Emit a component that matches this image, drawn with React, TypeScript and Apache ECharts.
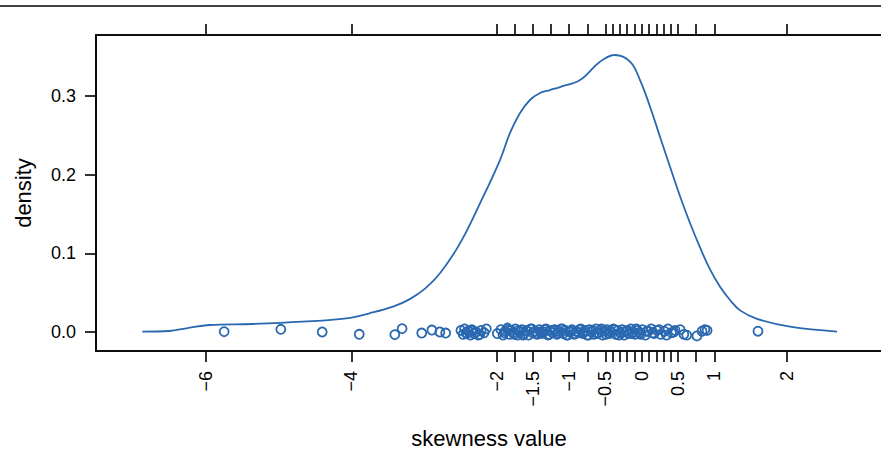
import React, { useEffect, useRef } from "react";
import * as echarts from "echarts";

// Density curve (skewness value, density)
const densityX = [-6.877, -6.505, -6.271, -5.955, -5.363, -4.674, -4.068, -3.751, -3.425, -3.2, -2.98, -2.778, -2.503, -2.227, -1.952, -1.814, -1.676, -1.539, -1.401, -1.263, -1.126, -0.85, -0.575, -0.368, -0.162, -0.024, 0.114, 0.251, 0.389, 0.527, 0.664, 0.802, 0.94, 1.078, 1.215, 1.353, 1.587, 2.042, 2.689];
const densityY = [0.0005, 0.0013, 0.0047, 0.0089, 0.0102, 0.0131, 0.0174, 0.0238, 0.0322, 0.0415, 0.0555, 0.0746, 0.1127, 0.1636, 0.2186, 0.253, 0.2784, 0.2949, 0.3038, 0.3076, 0.3114, 0.3203, 0.3436, 0.3521, 0.3436, 0.3203, 0.2864, 0.2483, 0.2101, 0.1725, 0.1385, 0.1075, 0.0795, 0.0575, 0.0407, 0.0275, 0.0168, 0.0067, 0.0005];

// Rug points (observed skewness values with vertical jitter)
const rugX = [-5.75, -4.97, -4.4, -3.89, -3.4, -3.3, -3.03, -2.89, -2.78, -2.7,
  -2.49, -2.46, -2.44, -2.42, -2.39, -2.36, -2.34, -2.31, -2.28, -2.25, -2.21, -2.17, -2.14,
  -1.99, -1.94, -1.91, -1.88, -1.85, -1.82, -1.8, -1.77, -1.74, -1.71, -1.68, -1.65, -1.62, -1.59, -1.56, -1.53, -1.5, -1.47, -1.44, -1.41, -1.38, -1.35, -1.32, -1.29, -1.26, -1.23, -1.2, -1.17, -1.14, -1.11, -1.08, -1.05, -1.02, -0.99, -0.96, -0.93, -0.9, -0.87, -0.84, -0.81, -0.78, -0.75, -0.72, -0.69, -0.66, -0.63, -0.6, -0.57, -0.54, -0.51, -0.48, -0.45, -0.42, -0.39, -0.36, -0.33, -0.3, -0.27, -0.24, -0.21, -0.18, -0.15, -0.12, -0.09, -0.06, -0.03,
  0.01, 0.05, 0.09, 0.13, 0.17, 0.21, 0.26, 0.31, 0.36, 0.41, 0.46, 0.53, 0.58, 0.62, 0.76, 0.83, 0.87, 0.9, 1.6,
  -2.41, -2.33, -2.23, -1.895, -1.835, -1.755, -1.695, -1.635, -1.575, -1.515, -1.455, -1.395, -1.335, -1.275, -1.215, -1.155, -1.095, -1.035, -0.975, -0.915, -0.855, -0.795, -0.735, -0.675, -0.615, -0.555, -0.495, -0.435, -0.375, -0.315, -0.255, -0.195, -0.135, -0.075, -0.015, 0.07, 0.15, 0.24, 0.34, 0.44];
const rugY = [0.0004, 0.0034, 0.0, -0.0029, -0.0034, 0.0042, -0.0013, 0.0025, 0.0, -0.0013,
  0.002, -0.003, 0.004, -0.001, 0.001, -0.004, 0.003, -0.002, 0.0, -0.004, 0.002, -0.001, 0.004,
  -0.002, 0.003, -0.004, 0.001, 0.005, -0.003, 0.002, -0.001, 0.004, -0.004, 0.0, 0.003, -0.002, 0.002, -0.004, 0.004, -0.001, 0.001, -0.003, 0.003, -0.002, 0.0, 0.004, -0.004, 0.002, -0.001, 0.003, -0.003, 0.001, 0.004, -0.002, 0.002, -0.004, 0.0, 0.003, -0.003, 0.001, -0.001, 0.004, -0.002, 0.002, -0.004, 0.003, 0.0, -0.003, 0.004, -0.001, 0.002, -0.004, 0.001, 0.003, -0.002, 0.0, 0.004, -0.003, 0.002, -0.001, 0.003, -0.004, 0.001, -0.002, 0.004, 0.0, -0.003, 0.002, -0.001,
  0.003, -0.004, 0.001, 0.004, -0.002, 0.002, -0.003, 0.001, 0.004, -0.001, 0.002, 0.003, -0.003, -0.004, -0.005, 0.001, 0.003, 0.002, 0.001,
  -0.002, 0.001, -0.003, -0.001, 0.003, -0.003, 0.002, -0.004, 0.001, 0.004, -0.002, 0.0, 0.003, -0.003, 0.002, -0.001, 0.004, -0.004, 0.001, -0.002, 0.003, 0.0, -0.004, 0.002, -0.002, 0.004, -0.003, 0.001, 0.003, -0.004, 0.0, 0.002, -0.002, 0.004, -0.003, 0.001, -0.001, 0.003, -0.004, 0.0];

// Axis ticks and labels
const xTicks = [-6, -4, -2, -1.75, -1.5, -1.25, -1, -0.75, -0.5, -0.4, -0.3, -0.2, -0.1, 0, 0.1, 0.2, 0.3, 0.4, 0.5, 0.75, 1, 2];
const xLabels = [-6, -4, -2, -1.5, -1, -0.5, 0, 0.5, 1, 2];
const yTicks = [0, 0.1, 0.2, 0.3];

const FONT = "'Liberation Sans', Arial, Helvetica, sans-serif";
const BLUE = "#2a68b0";

export default function App() {
  const ref = useRef<HTMLDivElement>(null);
  useEffect(() => {
    if (!ref.current) return;
    const chart = echarts.init(ref.current, undefined, { renderer: "svg" });
    const axisLine = { show: true, onZero: false, lineStyle: { color: "#000", width: 1.6 } };
    chart.setOption({
      animation: false,
      backgroundColor: "#fff",
      textStyle: { fontFamily: FONT },
      grid: {
        left: 96, top: 35, width: 786, height: 316,
        containLabel: false, outerBoundsMode: "none",
        show: true, borderColor: "#000", borderWidth: 1.6, backgroundColor: "transparent",
      },
      graphic: [
        { type: "line", shape: { x1: 0, y1: 6, x2: 881, y2: 6 }, style: { stroke: "#000", lineWidth: 1.3 } },
      ],
      xAxis: [
        {
          type: "value", position: "bottom", min: -7.5146, max: 3.308,
          axisLine,
          axisTick: { show: true, inside: false, length: 11, customValues: xTicks, lineStyle: { color: "#000", width: 1.6 } },
          axisLabel: {
            show: true, rotate: 90, margin: 20, customValues: xLabels, fontSize: 18, color: "#000", fontFamily: FONT,
            formatter: (v: number) => String(v).replace("-", "\u2212"),
          },
          splitLine: { show: false },
          name: "skewness value", nameLocation: "middle", nameGap: 76,
          nameTextStyle: { fontSize: 22, lineHeight: 22, color: "#000", fontFamily: FONT },
        },
        {
          type: "value", position: "top", min: -7.5146, max: 3.308,
          axisLine,
          axisTick: { show: true, inside: false, length: 11, customValues: xTicks, lineStyle: { color: "#000", width: 1.6 } },
          axisLabel: { show: false },
          splitLine: { show: false },
        },
      ],
      yAxis: {
        type: "value", min: -0.02415, max: 0.37753,
        axisLine,
        axisTick: { show: true, inside: false, length: 11, customValues: yTicks, lineStyle: { color: "#000", width: 1.6 } },
        axisLabel: {
          show: true, margin: 20, customValues: yTicks, fontSize: 18, color: "#000", fontFamily: FONT,
          formatter: (v: number) => v.toFixed(1),
        },
        splitLine: { show: false },
        name: "density", nameLocation: "middle", nameGap: 62, nameRotate: 90,
        nameTextStyle: { fontSize: 22, color: "#000", fontFamily: FONT },
      },
      series: [
        {
          type: "line", xAxisIndex: 0, smooth: 0.4, showSymbol: false,
          data: densityX.map((x, i) => [x, densityY[i]]),
          lineStyle: { color: BLUE, width: 1.8 },
        },
        {
          type: "scatter", xAxisIndex: 0, symbol: "circle", symbolSize: 9,
          data: rugX.map((x, i) => [x, rugY[i]]),
          itemStyle: { color: "rgba(0,0,0,0)", borderColor: BLUE, borderWidth: 1.8, opacity: 1 },
        },
      ],
    });
    return () => chart.dispose();
  }, []);
  return <div ref={ref} style={{ position: "fixed", left: 0, top: 0, width: 881, height: 450 }} />;
}
